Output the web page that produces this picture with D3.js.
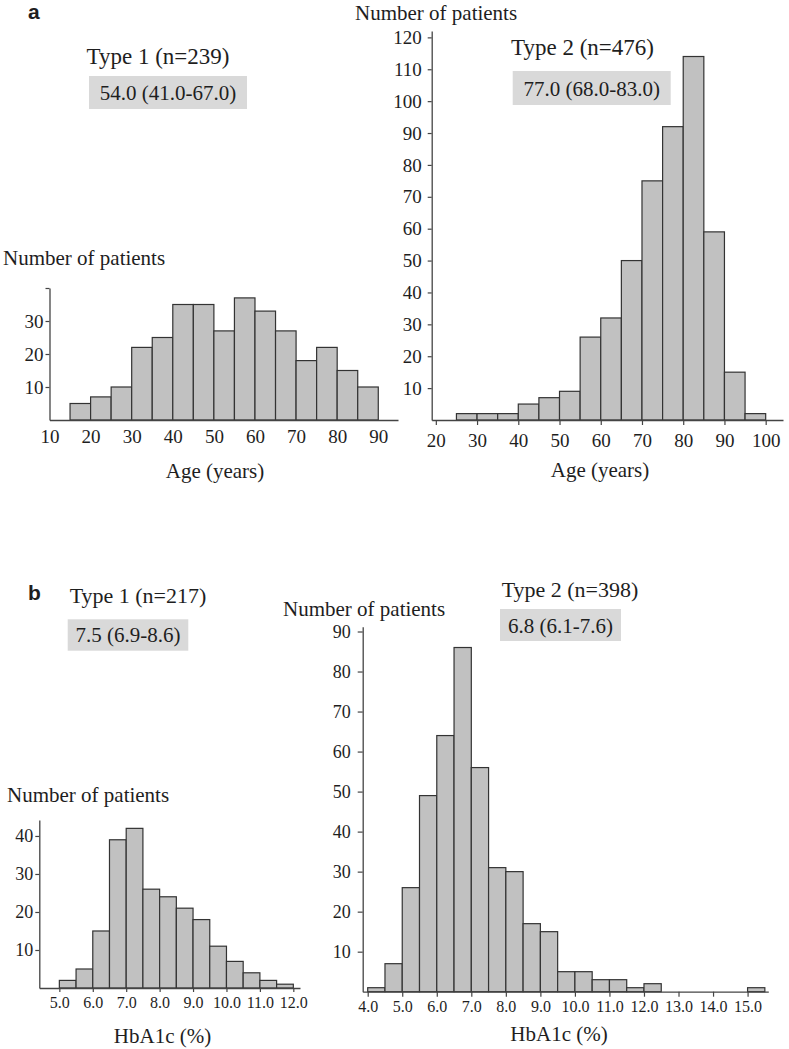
<!DOCTYPE html>
<html><head><meta charset="utf-8">
<script src="https://cdn.jsdelivr.net/npm/d3@7"></script>
<style>
body{margin:0;background:#fff;}
svg{display:block;}
text{font-family:"Liberation Serif","Times New Roman",serif;fill:#1e1e1e;}
</style></head><body>
<svg id="chart" width="789" height="1049"></svg>
<script>
// ---------- data ----------
const ageBinsT1   = [15,20,25,30,35,40,45,50,55,60,65,70,75,80,85];
const ageCountsT1 = [5,7,10,22,25,35,35,27,37,33,27,18,22,15,10];
const ageBinsT2   = [25,30,35,40,45,50,55,60,65,70,75,80,85,90,95];
const ageCountsT2 = [2,2,2,5,7,9,26,32,50,75,92,114,59,15,2];
const hbBinsT1    = [5.0,5.5,6.0,6.5,7.0,7.5,8.0,8.5,9.0,9.5,10.0,10.5,11.0,11.5];
const hbCountsT1  = [2,5,15,39,42,26,24,21,18,11,7,4,2,1];
const hbBinsT2    = [4.0,4.5,5.0,5.5,6.0,6.5,7.0,7.5,8.0,8.5,9.0,9.5,10.0,10.5,11.0,11.5,12.0,12.5,13.0,13.5,14.0,14.5,15.0];
const hbCountsT2  = [1,7,26,49,64,86,56,31,30,17,15,5,5,3,3,1,2,0,0,0,0,0,1];

const ageXTicksT1 = [10,20,30,40,50,60,70,80,90];
const ageYTicksT1 = [10,20,30,40];
const ageYLabelsT1 = ["10","20","30",""];
const ageXTicksT2 = [20,30,40,50,60,70,80,90,100];
const ageYTicksT2 = [10,20,30,40,50,60,70,80,90,100,110,120];
const hbXTicksT1  = [5,6,7,8,9,10,11,12];
const hbYTicksT1  = [10,20,30,40];
const hbXTicksT2  = [4,5,6,7,8,9,10,11,12,13,14,15];
const hbYTicksT2  = [10,20,30,40,50,60,70,80,90];

const titles   = ["Type 1 (n=239)","Type 2 (n=476)","Type 1 (n=217)","Type 2 (n=398)"];
const medians  = ["54.0 (41.0-67.0)","77.0 (68.0-83.0)","7.5 (6.9-8.6)","6.8 (6.1-7.6)"];
const yTitle   = "Number of patients";
const xTitles  = ["Age (years)","Age (years)","HbA1c (%)","HbA1c (%)"];

// ---------- drawing ----------
const svg = d3.select("#chart");

function panel(c){
  const g = svg.append("g");
  const x = d3.scaleLinear().domain(c.xDomain).range(c.xRange);
  const y = d3.scaleLinear().domain(c.yDomain).range(c.yRange);
  const data = c.bins.map((b,i)=>({x0:b, x1:b+c.binWidth, n:c.counts[i]})).filter(d=>d.n>0);
  g.selectAll("rect.bar").data(data).join("rect")
    .attr("class","bar")
    .attr("x", d=>x(d.x0)).attr("width", d=>x(d.x1)-x(d.x0))
    .attr("y", d=>y(d.n)).attr("height", d=>y(0)-y(d.n))
    .attr("fill","#c1c1c1").attr("stroke","#333").attr("stroke-width",1.2);

  // x axis
  const xa = g.append("g").attr("transform",`translate(0,${y(0)})`)
    .call(d3.axisBottom(x).tickValues(c.xTicks).tickFormat(c.xFmt)
      .tickSize(c.xTickSize).tickSizeOuter(0));
  xa.selectAll("text").attr("dy",null).attr("y", c.xLabelBase - y(0))
    .style("font-size", c.xFont+"px").style("font-family",'"Liberation Serif",serif').attr("fill","#1e1e1e");
  // y axis
  const ya = g.append("g").attr("transform",`translate(${x(c.xDomain[0])},0)`)
    .call(d3.axisLeft(y).tickValues(c.yTicks).tickFormat(c.yFmt)
      .tickSize(c.yTickSize).tickPadding(c.yPad).tickSizeOuter(0));
  ya.selectAll("text").style("font-size", c.yFont+"px").style("font-family",'"Liberation Serif",serif').attr("fill","#1e1e1e");
  [xa,ya].forEach(a=>{
    a.select(".domain").attr("stroke","#444").attr("stroke-width",1.3);
    a.selectAll(".tick line").attr("stroke","#444").attr("stroke-width",1.2);
  });

  // texts
  g.append("text").attr("x",c.yTitlePos[0]).attr("y",c.yTitlePos[1])
    .style("font-size","21px").text(yTitle);
  g.append("text").attr("x",c.xTitlePos[0]).attr("y",c.xTitlePos[1])
    .attr("text-anchor","middle").style("font-size","21px").text(c.xTitle);
  g.append("text").attr("x",c.titlePos[0]).attr("y",c.titlePos[1])
    .attr("text-anchor","middle").style("font-size",c.titleFont+"px").text(c.title);
  g.append("rect").attr("x",c.box[0]).attr("y",c.box[1]).attr("width",c.box[2]).attr("height",c.box[3])
    .attr("fill","#d9d9d9");
  g.append("text").attr("x",c.box[0]+c.box[2]/2).attr("y",c.boxBase)
    .attr("text-anchor","middle").style("font-size","21px").text(c.median);
}

const intFmt = d=>String(d);
const decFmt = d=>d3.format(".1f")(d);

panel({
  bins:ageBinsT1, counts:ageCountsT1, binWidth:5,
  xDomain:[10,94.8], xRange:[49.5,398], yDomain:[0,40], yRange:[420,288],
  xTicks:ageXTicksT1, xFmt:intFmt, xTickSize:0, xLabelBase:443, xFont:19,
  yTicks:ageYTicksT1, yFmt:(d,i)=>ageYLabelsT1[i], yTickSize:4, yPad:2, yFont:19,
  yTitlePos:[3,265], xTitle:xTitles[0], xTitlePos:[215,478],
  title:titles[0], titlePos:[158,64], titleFont:23,
  median:medians[0], box:[89,76,158,33], boxBase:100
});
panel({
  bins:ageBinsT2, counts:ageCountsT2, binWidth:5,
  xDomain:[19,104.2], xRange:[431.7,783], yDomain:[0,122], yRange:[420,31],
  xTicks:ageXTicksT2, xFmt:intFmt, xTickSize:5, xLabelBase:447, xFont:19,
  yTicks:ageYTicksT2, yFmt:intFmt, yTickSize:4, yPad:6, yFont:19,
  yTitlePos:[355,20], xTitle:xTitles[1], xTitlePos:[600,477],
  title:titles[1], titlePos:[582.5,55], titleFont:23,
  median:medians[1], box:[512.7,71,158,34], boxBase:96
});
panel({
  bins:hbBinsT1, counts:hbCountsT1, binWidth:0.5,
  xDomain:[4.4,12.2], xRange:[39.3,300], yDomain:[0,44.2], yRange:[988,820],
  xTicks:hbXTicksT1, xFmt:decFmt, xTickSize:4, xLabelBase:1008, xFont:16,
  yTicks:hbYTicksT1, yFmt:intFmt, yTickSize:4, yPad:2, yFont:18,
  yTitlePos:[7,802], xTitle:xTitles[2], xTitlePos:[162.5,1043],
  title:titles[2], titlePos:[138,603], titleFont:22,
  median:medians[2], box:[67.7,619.3,120.6,31.4], boxBase:642
});
panel({
  bins:hbBinsT2, counts:hbCountsT2, binWidth:0.5,
  xDomain:[3.855,15.6], xRange:[362.7,768.3], yDomain:[0,91.2], yRange:[991.7,626.7],
  xTicks:hbXTicksT2, xFmt:decFmt, xTickSize:5, xLabelBase:1012, xFont:16,
  yTicks:hbYTicksT2, yFmt:intFmt, yTickSize:5, yPad:7, yFont:18,
  yTitlePos:[283,616], xTitle:xTitles[3], xTitlePos:[559,1041],
  title:titles[3], titlePos:[570,597], titleFont:22,
  median:medians[3], box:[500,609,121,32], boxBase:633
});

// panel letters
svg.append("text").attr("x",28).attr("y",19)
  .style("font-family",'"Liberation Sans",Arial,sans-serif').style("font-weight","bold").style("font-size","21px").text("a");
svg.append("text").attr("x",28).attr("y",600)
  .style("font-family",'"Liberation Sans",Arial,sans-serif').style("font-weight","bold").style("font-size","21px").text("b");
</script>
</body></html>
